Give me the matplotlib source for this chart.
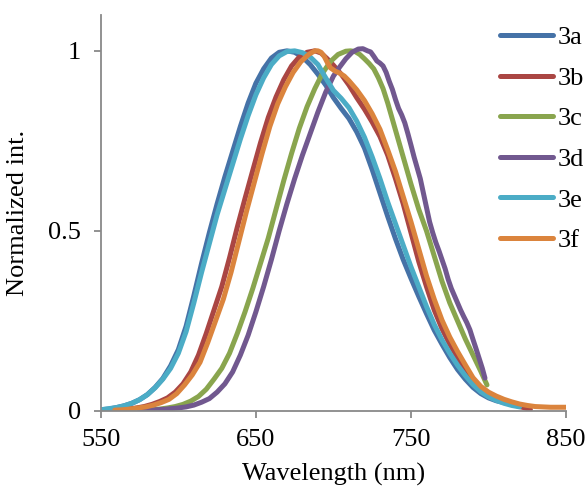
import numpy as np
import matplotlib
matplotlib.use('Agg')
from matplotlib import pyplot as plt

plt.rcParams['font.family'] = ['Liberation Serif', 'DejaVu Serif']

labels = ['3a', '3b', '3c', '3d', '3e', '3f']
colors = ['#4572A7', '#AA4643', '#89A54E', '#71588F', '#4BACC6', '#DB843D']

# wavelength (nm) / normalized intensity
wl_3a = [550, 555, 560, 565, 570, 575, 580, 585, 590, 595, 600, 605, 610, 615, 620, 625, 630, 635, 640, 645,
         650, 655, 660, 665, 670, 675, 680, 685, 690, 695, 700, 705, 710, 715, 720, 725, 730, 735, 740, 745,
         750, 755, 760, 765, 770, 775, 780, 785, 790, 795, 800, 805, 810, 815, 819]
in_3a = [.003, .005, .009, .014, .021, .031, .045, .065, .09, .125, .17, .235, .32, .41, .495, .575, .65, .72,
         .79, .855, .91, .95, .98, .996, 1.0, .996, .983, .962, .935, .905, .87, .84, .812, .775, .73, .67,
         .605, .54, .478, .42, .368, .318, .27, .224, .185, .148, .115, .088, .065, .048, .036, .028, .023,
         .019, .016]

wl_3b = [563, 568, 573, 578, 583, 588, 593, 598, 603, 608, 613, 618, 623, 628, 633, 638, 643, 648, 653, 658,
         663, 668, 673, 678, 683, 688, 692, 696, 700, 705, 710, 715, 720, 725, 730, 735, 740, 745, 750, 755,
         760, 765, 770, 775, 780, 785, 790, 795, 800, 805, 810, 815, 820, 827]
in_3b = [.003, .005, .008, .012, .018, .026, .036, .052, .075, .108, .155, .215, .28, .345, .425, .51, .59, .668,
         .745, .815, .872, .92, .958, .983, .996, 1.0, .994, .978, .96, .935, .905, .87, .838, .802, .762, .71,
         .645, .575, .495, .415, .345, .28, .228, .185, .148, .115, .087, .064, .046, .034, .026, .019, .012,
         .004]

wl_3c = [578, 583, 588, 593, 598, 603, 608, 613, 618, 623, 628, 633, 638, 643, 648, 653, 658, 663, 668, 673,
         678, 683, 688, 693, 698, 703, 708, 711, 714, 717, 720, 723, 726, 729, 732, 735, 738, 741, 744, 747,
         750, 755, 760, 765, 770, 775, 780, 785, 790, 795, 799]
in_3c = [.002, .003, .005, .008, .012, .018, .027, .04, .06, .088, .118, .16, .215, .275, .34, .41, .48, .56,
         .64, .715, .785, .845, .895, .938, .97, .99, .999, 1.0, .998, .99, .978, .965, .95, .925, .895, .855,
         .81, .765, .72, .675, .63, .56, .5, .43, .36, .3, .25, .2, .155, .11, .072]

wl_3d = [575, 580, 585, 590, 595, 600, 605, 610, 615, 620, 625, 630, 635, 640, 645, 650, 655, 660, 665, 670,
         675, 680, 685, 690, 695, 700, 704, 708, 712, 716, 719, 722, 724, 726, 728, 730, 732, 734, 736, 738,
         740, 742, 744, 746, 748, 750, 752, 754, 756, 758, 760, 762, 764, 766, 768, 770, 772, 774, 776, 778,
         780, 782, 784, 786, 788, 790, 792, 794, 796, 797.7]
in_3d = [.001, .002, .003, .004, .006, .008, .011, .016, .024, .034, .052, .075, .108, .155, .21, .275, .345,
         .42, .5, .575, .645, .71, .77, .83, .885, .93, .955, .978, .996, 1.005, 1.006, 1.0, .997, .985, .972,
         .966, .958, .94, .915, .893, .865, .84, .822, .8, .77, .738, .705, .675, .645, .605, .565, .525, .495,
         .468, .445, .42, .395, .365, .34, .32, .3, .28, .262, .245, .225, .198, .172, .145, .118, .091]

wl_3e = [550, 555, 560, 565, 570, 575, 580, 585, 590, 595, 600, 605, 610, 615, 620, 625, 630, 635, 640, 645,
         650, 655, 660, 665, 670, 675, 680, 685, 690, 695, 700, 705, 710, 715, 720, 725, 730, 735, 740, 745,
         750, 755, 760, 765, 770, 775, 780, 785, 790, 795, 800, 805, 810, 815, 820]
in_3e = [.003, .006, .009, .014, .021, .031, .045, .064, .088, .118, .16, .22, .3, .385, .465, .545, .615, .685,
         .755, .82, .878, .925, .962, .986, .998, 1.0, .995, .983, .962, .925, .89, .868, .842, .805, .76, .705,
         .645, .58, .52, .46, .4, .345, .29, .24, .197, .16, .127, .098, .073, .053, .039, .029, .021, .015,
         .011]

wl_3f = [559, 564, 569, 574, 579, 584, 589, 594, 599, 604, 609, 614, 619, 624, 629, 634, 639, 644, 649, 654,
         659, 664, 669, 674, 679, 684, 688, 690, 692, 694, 696, 698, 701, 704, 707, 710, 715, 720, 725, 730,
         735, 740, 745, 750, 755, 760, 765, 770, 775, 780, 785, 790, 795, 800, 805, 810, 815, 820, 825, 830,
         840, 850]
in_3f = [.002, .003, .005, .008, .011, .016, .023, .032, .048, .072, .1, .135, .19, .25, .31, .385, .47, .555,
         .635, .715, .79, .852, .9, .94, .97, .99, 1.0, 1.0, .996, .985, .968, .953, .944, .938, .93, .917,
         .892, .862, .825, .782, .725, .665, .595, .525, .45, .375, .31, .252, .205, .165, .128, .092, .068,
         .052, .041, .032, .025, .019, .015, .012, .01, .01]

series = [(wl_3a, in_3a), (wl_3b, in_3b), (wl_3c, in_3c), (wl_3d, in_3d), (wl_3e, in_3e), (wl_3f, in_3f)]

fig = plt.figure(figsize=(5.86, 4.95), dpi=100)
ax = fig.add_axes([0.172, 0.170, 0.794, 0.800])

for (x, y), lab, c in zip(series, labels, colors):
    ax.plot(x, y, color=c, lw=3.6, label=lab, solid_capstyle='round', solid_joinstyle='round')

ax.set_xlim(550, 850)
ax.set_ylim(0, 1.1)
ax.set_xticks([550, 650, 750, 850])
ax.set_yticks([0, 0.5, 1])
ax.set_yticklabels(['0', '0.5', '1'])
for s in ['top', 'right']:
    ax.spines[s].set_visible(False)
for s in ['left', 'bottom']:
    ax.spines[s].set_color('#898989')
    ax.spines[s].set_linewidth(1.3)
ax.tick_params(axis='both', color='#898989', width=1.3, length=5, labelsize=19)
ax.tick_params(axis='y', pad=9)
ax.tick_params(axis='x', pad=8)
ax.set_xlabel('Wavelength (nm)', fontsize=19, labelpad=9)
ax.set_ylabel('Normalized int.', fontsize=19, labelpad=14)

leg = fig.legend(loc='upper left', bbox_to_anchor=(0.853, 0.948), frameon=False, fontsize=19,
                 handlelength=2.0, handletextpad=0.2, labelspacing=0.65, borderpad=0, borderaxespad=0)
for h in leg.get_lines():
    h.set_linewidth(3.6)
    h.set_solid_capstyle('round')

fig.savefig('out.png', dpi=100)
